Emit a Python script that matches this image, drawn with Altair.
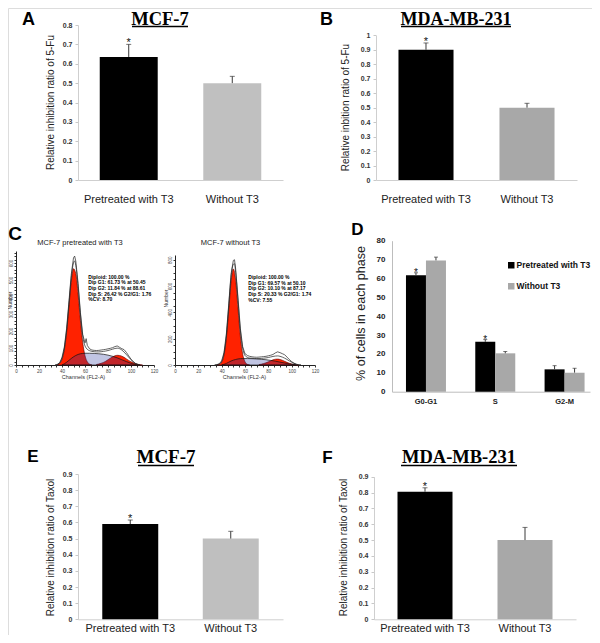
import altair as alt
import pandas as pd

W, H = 584, 627
SANS = "Liberation Sans"
SERIF = "Liberation Serif"

# ---------------- data ----------------
groups = ["Pretreated with T3", "Without T3"]

A_values = [0.635, 0.50]
A_upper = [0.70, 0.535]
A_stars = ["*", ""]

B_values = [0.90, 0.50]
B_upper = [0.947, 0.53]
B_stars = ["*", ""]

E_values = [0.59, 0.50]
E_upper = [0.615, 0.545]
E_stars = ["*", ""]

F_values = [0.805, 0.50]
F_upper = [0.83, 0.58]
F_stars = ["*", ""]

y_ticks_08 = [0, 0.1, 0.2, 0.3, 0.4, 0.5, 0.6, 0.7, 0.8]
y_ticks_09 = [0, 0.1, 0.2, 0.3, 0.4, 0.5, 0.6, 0.7, 0.8, 0.9]
y_ticks_10 = [0, 0.1, 0.2, 0.3, 0.4, 0.5, 0.6, 0.7, 0.8, 0.9, 1.0]

D_phases = ["G0-G1", "S", "G2-M"]
D_series = ["Pretreated with T3", "Without T3"]
D_pre = [61.73, 26.42, 11.84]
D_pre_upper = [63.0, 27.6, 13.8]
D_pre_stars = ["*", "*", ""]
D_wo = [69.57, 20.33, 10.10]
D_wo_upper = [71.3, 21.3, 12.4]
D_wo_stars = ["", "", ""]
D_ticks = [0, 10, 20, 30, 40, 50, 60, 70, 80]

# flow cytometry histograms (channel, count)
env_ch = [34, 36, 38, 40, 42, 44, 46, 48, 50, 51, 52, 54, 56, 58, 60, 61, 62, 64, 66, 68,
          70, 72, 74, 76, 78, 80, 82, 84, 86, 88, 90, 92, 94, 96, 98, 100, 102, 104, 106, 108]
CL_raw = [0, 4, 14, 45, 105, 215, 370, 530, 630, 640, 610, 480, 310, 180, 130, 155, 115, 95, 88, 86,
          85, 86, 88, 90, 92, 95, 98, 102, 108, 112, 104, 96, 90, 74, 54, 34, 20, 9, 3, 0]
CL_fit = [0, 3, 12, 40, 98, 205, 355, 510, 600, 612, 585, 462, 300, 172, 112, 100, 92, 84, 80, 78,
          77, 77, 78, 80, 82, 85, 89, 93, 97, 99, 96, 88, 76, 61, 46, 31, 18, 8, 3, 0]
CL_g1_ch = [36, 38, 40, 42, 44, 46, 48, 50, 52, 54, 56, 58, 60, 62, 64, 66]
CL_g1 = [3, 10, 33, 88, 190, 338, 485, 566, 538, 415, 261, 133, 55, 19, 5, 0]
CL_s_ch = [40, 42, 44, 46, 48, 50, 52, 54, 56, 58, 60, 64, 68, 72, 76, 80, 84, 88, 92, 96, 100, 104, 106]
CL_s = [0, 7, 16, 27, 38, 48, 56, 62, 66, 68, 69, 69, 68, 66, 63, 58, 51, 42, 31, 20, 10, 3, 0]
CL_g2_ch = [70, 72, 74, 76, 78, 80, 82, 84, 86, 88, 90, 92, 94, 96, 98, 100, 102, 104, 106, 108, 110]
CL_g2 = [3, 6, 10, 15, 22, 31, 40, 48, 54, 57, 56, 52, 45, 36, 27, 19, 13, 8, 4, 2, 0]
CL_text = "Diploid: 100.00 %\nDip G1: 61.73 % at 50.45\nDip G2: 11.84 % at 88.61\nDip S: 26.42 % G2/G1: 1.76\n%CV: 8.70"

CR_raw = [0, 3, 10, 32, 95, 235, 455, 690, 795, 800, 730, 510, 280, 140, 85, 80, 72, 66, 62, 60,
          59, 60, 62, 64, 66, 70, 74, 80, 92, 100, 94, 86, 78, 60, 42, 26, 14, 6, 2, 0]
CR_fit = [0, 2, 8, 28, 88, 222, 440, 665, 765, 770, 705, 490, 265, 128, 72, 64, 58, 53, 51, 50,
          49, 49, 50, 52, 54, 57, 61, 65, 68, 69, 66, 60, 52, 42, 31, 21, 12, 5, 1, 0]
CR_g1_ch = [36, 38, 40, 42, 44, 46, 48, 50, 52, 54, 56, 58, 60, 62, 64]
CR_g1 = [1, 5, 21, 75, 201, 408, 627, 730, 644, 431, 219, 84, 25, 5, 0]
CR_s_ch = [40, 42, 44, 46, 48, 50, 52, 54, 56, 58, 62, 66, 70, 74, 78, 82, 86, 90, 94, 98, 102, 104]
CR_s = [0, 5, 12, 21, 30, 37, 42, 46, 48, 49, 49, 48, 46, 43, 40, 35, 29, 22, 15, 8, 3, 0]
CR_g2_ch = [72, 74, 76, 78, 80, 82, 84, 86, 88, 90, 92, 94, 96, 98, 100, 102, 104, 106]
CR_g2 = [3, 6, 11, 17, 24, 32, 39, 44, 45, 42, 36, 28, 20, 13, 8, 4, 2, 0]
CR_text = "Diploid: 100.00 %\nDip G1: 69.57 % at 50.10\nDip G2: 10.10 % at 87.17\nDip S: 20.33 % G2/G1: 1.74\n%CV: 7.55"

ONE = alt.Data(values=[{"k": 1}])


# ---------------- helpers ----------------
def bar_panel(values, upper, stars, gray, xr, pin, pout, ydom, yr, yvals, ytitle, tx, ty, lpad):
    df = pd.DataFrame({"group": groups, "value": values, "upper": upper, "star": stars})
    xs = alt.Scale(domain=groups, range=xr, paddingInner=pin, paddingOuter=pout)
    ys = alt.Scale(domain=ydom, range=yr, nice=False, zero=True)
    xax = alt.Axis(orient="bottom", offset=-(H - yr[0]), title=None, labelAngle=0,
                   labelFont=SANS, labelFontSize=11, labelColor="#222", labelPadding=lpad,
                   ticks=False, tickSize=0, domainColor="#cfcfcf", grid=False, labelOverlap=False)
    yax = alt.Axis(orient="left", offset=-xr[0], values=yvals, format=".1~f", title=ytitle,
                   titleFont=SANS, titleFontSize=10, titleFontWeight="normal", titleColor="#222",
                   titleX=tx - xr[0], titleY=ty, titleBaseline="middle", titleAlign="center",
                   titleAngle=270, labelFont=SANS, labelFontSize=7, labelFontWeight="bold",
                   labelColor="#333", labelPadding=3, tickSize=3, tickColor="#c8c8c8",
                   domainColor="#cfcfcf", grid=False, labelOverlap=False)
    X = alt.X("group:N", scale=xs, axis=xax, sort=groups)
    base = alt.Chart(df)
    bars = base.mark_bar().encode(
        x=X, y=alt.Y("value:Q", scale=ys, axis=yax),
        color=alt.Color("group:N", scale=alt.Scale(domain=groups, range=["#000000", gray]), legend=None))
    err = base.mark_rule(color="#3a3a3a", strokeWidth=1).encode(
        x=X, y=alt.Y("value:Q", scale=ys, axis=yax), y2="upper:Q")
    cap = base.mark_tick(color="#3a3a3a", thickness=1, size=5).encode(
        x=X, y=alt.Y("upper:Q", scale=ys, axis=yax))
    star = base.mark_text(font=SANS, fontSize=11, baseline="alphabetic", dy=2, color="#111").encode(
        x=X, y=alt.Y("upper:Q", scale=ys, axis=yax), text="star:N")
    return alt.layer(bars, err, cap, star)


def hist_panel(xr, ydom, yr, yvals, ylab, raw, fit, g1ch, g1, sch, s, g2ch, g2, xtx, ytx, yty):
    xs = alt.Scale(domain=[0, 120], range=xr, nice=False, zero=False)
    ys = alt.Scale(domain=ydom, range=yr, nice=False, zero=True)
    xax = alt.Axis(orient="bottom", offset=-(H - yr[0]), values=list(range(0, 121, 5)),
                   labelExpr="datum.value % 20 == 0 ? datum.label : ''",
                   title="Channels  (FL2-A)", titleFont=SANS, titleFontSize=5.5,
                   titleFontWeight="normal", titleColor="#333", titleX=xtx, titleY=11,
                   titleBaseline="middle", titleAlign="center",
                   labelFont=SANS, labelFontSize=4.5, labelColor="#444", labelPadding=1,
                   tickSize=2, tickColor="#333", domainColor="#222", grid=False,
                   labelFlush=False, labelOverlap=False)
    yax = alt.Axis(orient="left", offset=-xr[0], values=yvals,
                   labelExpr="datum.value %% %d == 0 ? datum.label : ''" % ylab,
                   title="Number", titleFont=SANS, titleFontSize=5, titleFontWeight="normal",
                   titleColor="#333", titleX=ytx - xr[0], titleY=yty, titleBaseline="middle",
                   titleAlign="center", titleAngle=270,
                   labelFont=SANS, labelFontSize=4.5, labelColor="#444", labelPadding=1,
                   labelAngle=270, tickSize=2, tickColor="#333", domainColor="#222",
                   grid=False, labelFlush=False, labelOverlap=False)
    X = alt.X("ch:Q", scale=xs, axis=xax)
    Y = alt.Y("n:Q", scale=ys, axis=yax)
    dg1 = pd.DataFrame({"ch": g1ch, "n": g1})
    dg2 = pd.DataFrame({"ch": g2ch, "n": g2})
    ds = pd.DataFrame({"ch": sch, "n": s})
    draw = pd.DataFrame({"ch": env_ch, "n": raw})
    dfit = pd.DataFrame({"ch": env_ch, "n": fit})
    a1 = alt.Chart(dg1).mark_area(fill="#ff2200", stroke="#5a0000", strokeWidth=0.6,
                                  interpolate="monotone").encode(x=X, y=Y)
    a2 = alt.Chart(dg2).mark_area(fill="#ff2200", stroke="#5a0000", strokeWidth=0.6,
                                  interpolate="monotone").encode(x=X, y=Y)
    a3 = alt.Chart(ds).mark_area(fill="#1f2f9a", fillOpacity=0.28, stroke="#111",
                                 strokeWidth=0.7, interpolate="monotone").encode(x=X, y=Y)
    l1 = alt.Chart(dfit).mark_line(color="#222", strokeWidth=0.7,
                                   interpolate="monotone").encode(x=X, y=Y)
    l2 = alt.Chart(draw).mark_line(color="#222", strokeWidth=0.7).encode(x=X, y=Y)
    return alt.layer(a1, a2, a3, l1, l2)


def txt(text, x, y, size, weight="bold", font=SANS, align="center", baseline="alphabetic",
        color="#000", **kw):
    return alt.Chart(ONE).mark_text(text=text, fontSize=size, fontWeight=weight, font=font,
                                    align=align, baseline=baseline, color=color, **kw).encode(
        x=alt.value(x), y=alt.value(y))


def uline(x1, x2, y):
    return alt.Chart(ONE).mark_rule(color="#000", strokeWidth=1.3).encode(
        x=alt.value(x1), x2=alt.value(x2), y=alt.value(y))


# ---------------- panels ----------------
pA = bar_panel(A_values, A_upper, A_stars, "#c0c0c0", [70, 275], 0.44, 0.21, [0, 0.8],
               [172, 17], y_ticks_08, "Relative  inhibition  ratio of 5-Fu", 42, 94, 13)
pB = bar_panel(B_values, B_upper, B_stars, "#a8a8a8", [368, 569], 0.455, 0.2225, [0, 1.0],
               [172, 27.3], y_ticks_10, "Relative inbition ratio of 5-Fu", 337, 99, 13)
pE = bar_panel(E_values, E_upper, E_stars, "#bfbfbf", [70, 275], 0.443, 0.2415, [0, 0.9],
               [611.3, 466], y_ticks_09, "Relative inhibition ratio of Taxol", 42, 539, 3)
pF = bar_panel(F_values, F_upper, F_stars, "#a8a8a8", [366, 568], 0.45, 0.235, [0, 0.9],
               [611.3, 468.7], y_ticks_09, "Relative inhibition ratio of Taxol", 335, 539, 3)

# panel D
dfD = pd.DataFrame({
    "phase": D_phases + D_phases,
    "series": [D_series[0]] * 3 + [D_series[1]] * 3,
    "value": D_pre + D_wo,
    "upper": D_pre_upper + D_wo_upper,
    "star": D_pre_stars + D_wo_stars,
})
D_xr = [384, 582]
D_yr = [383.7, 232.7]
dX = alt.X("phase:N", sort=D_phases,
           scale=alt.Scale(domain=D_phases, range=D_xr, paddingInner=0.423, paddingOuter=0.14, align=0.72),
           axis=alt.Axis(orient="bottom", offset=-(H - D_yr[0]), title=None, labelAngle=0,
                         labelFont=SANS, labelFontSize=7.5, labelFontWeight="bold", labelColor="#222",
                         labelPadding=6, ticks=False, tickSize=0, domainColor="#bdbdbd",
                         grid=False, labelOverlap=False))
dXO = alt.XOffset("series:N", sort=D_series,
                  scale=alt.Scale(domain=D_series, paddingInner=0, paddingOuter=0))
dys = alt.Scale(domain=[0, 80], range=D_yr, nice=False, zero=True)
dyax = alt.Axis(orient="left", offset=-D_xr[0], values=D_ticks, title="% of cells in each phase",
                titleFont=SANS, titleFontSize=12.5, titleFontWeight="normal", titleColor="#222",
                titleX=352 - D_xr[0], titleY=305, titleBaseline="middle", titleAlign="center",
                titleAngle=270, labelFont=SANS, labelFontSize=8, labelFontWeight="bold",
                labelColor="#222", labelPadding=7, ticks=False, tickSize=0,
                domainColor="#bdbdbd", grid=False, labelOverlap=False)
baseD = alt.Chart(dfD)
dBars = baseD.mark_bar().encode(
    x=dX, xOffset=dXO, y=alt.Y("value:Q", scale=dys, axis=dyax),
    color=alt.Color("series:N", sort=D_series,
                    scale=alt.Scale(domain=D_series, range=["#000000", "#a8a8a8"]),
                    legend=alt.Legend(orient="none", legendX=499, legendY=253, title=None,
                                      symbolType="square", symbolSize=42, symbolStrokeWidth=0,
                                      labelFont=SANS, labelFontSize=8.5, labelFontWeight="bold",
                                      labelColor="#111", rowPadding=12, padding=0, labelOffset=1)))
dErr = baseD.mark_rule(color="#3a3a3a", strokeWidth=1).encode(
    x=dX, xOffset=dXO, y=alt.Y("value:Q", scale=dys, axis=dyax), y2="upper:Q")
dCap = baseD.mark_tick(color="#3a3a3a", thickness=1, size=4).encode(
    x=dX, xOffset=dXO, y=alt.Y("upper:Q", scale=dys, axis=dyax))
dStar = baseD.mark_text(font=SANS, fontSize=10, baseline="alphabetic", dy=3, color="#111").encode(
    x=dX, xOffset=dXO, y=alt.Y("upper:Q", scale=dys, axis=dyax), text="star:N")
pD = alt.layer(dBars, dErr, dCap, dStar)

# panel C
pCL = hist_panel([8, 146], [0, 670], [357, 243], list(range(0, 661, 20)), 100,
                 CL_raw, CL_fit, CL_g1_ch, CL_g1, CL_s_ch, CL_s, CL_g2_ch, CL_g2, 75, 1, 292)
pCR = hist_panel([167, 307], [0, 836], [357, 247], list(range(0, 801, 50)), 200,
                 CR_raw, CR_fit, CR_g1_ch, CR_g1, CR_s_ch, CR_s, CR_g2_ch, CR_g2, 236, 157, 290)

annotations = [
    txt("A", 20.5, 16.5, 18), txt("B", 318.5, 16.5, 18), txt("C", 7, 232, 19),
    txt("D", 349.5, 227, 17), txt("E", 25, 453.5, 17), txt("F", 319.5, 454.5, 17),
    txt("MCF-7", 152, 16.5, 18.5, font=SERIF), uline(124, 180, 18.5),
    txt("MDA-MB-231", 448, 16.5, 18, font=SERIF), uline(393, 503, 18.5),
    txt("MCF-7", 158, 455, 19, font=SERIF), uline(130, 186, 457.5),
    txt("MDA-MB-231", 451, 455, 18.5, font=SERIF), uline(393, 509, 457.5),
    txt("MCF-7 pretreated with T3", 72, 235.3, 7.5, weight="normal", baseline="middle", color="#222"),
    txt("MCF-7 without T3", 222.5, 235.3, 7.5, weight="normal", baseline="middle", color="#222"),
    txt(CL_text, 80.3, 266.5, 5, align="left", baseline="top", lineBreak="\n", lineHeight=5.7),
    txt(CR_text, 240.3, 267, 5, align="left", baseline="top", lineBreak="\n", lineHeight=5.7),
]

chart = alt.layer(pCL, pCR, pA, pB, pD, pE, pF, *annotations).resolve_scale(
    x="independent", y="independent", color="independent"
).resolve_axis(
    x="independent", y="independent"
).resolve_legend(
    color="independent"
).properties(
    width=W, height=H, padding=0, autosize=alt.AutoSizeParams(type="none")
).configure_view(strokeWidth=0).configure(background="white")

chart.save("out.html", embed_options={"renderer": "svg", "actions": False})
